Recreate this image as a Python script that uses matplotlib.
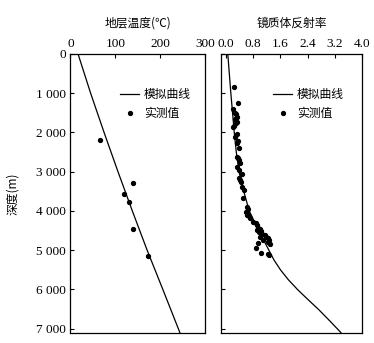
import matplotlib.pyplot as plt
import numpy as np

plt.rcParams['font.family'] = ['Liberation Serif', 'Noto Sans CJK SC']
cjk = ['Noto Sans CJK SC', 'DejaVu Sans']

# temperature curve and measurements
temp_depth = [0, 1000, 2000, 3000, 4000, 5000, 6000, 7100]
temp_sim = [17, 45, 75, 106, 138, 171, 206, 244]
temp_obs_t = [67, 140, 120, 131, 140, 173]
temp_obs_d = [2194, 3291, 3571, 3776, 4464, 5153]

# vitrinite reflectance curve and measurements
ro_depth = [0, 1000, 2000, 2500, 3000, 3500, 4000, 4250, 4500, 4750, 5000, 5250,
            5500, 5750, 6000, 6250, 6500, 6800, 7100]
ro_sim = [0.05, 0.14, 0.24, 0.30, 0.38, 0.52, 0.68, 0.82, 0.97, 1.11, 1.26, 1.41,
          1.60, 1.83, 2.10, 2.40, 2.71, 3.05, 3.38]
ro_obs_v = [0.24, 0.34, 0.19, 0.27, 0.30, 0.32, 0.26, 0.32, 0.28, 0.20, 0.24, 0.33,
            0.27, 0.36, 0.33, 0.37, 0.32, 0.36, 0.39, 0.41, 0.33, 0.38, 0.46, 0.39,
            0.41, 0.43, 0.48, 0.53, 0.51, 0.61, 0.64, 0.59, 0.64, 0.61, 0.66, 0.70,
            0.80, 0.87, 0.92, 0.95, 0.99, 0.92, 1.04, 0.97, 1.06, 1.14, 0.99, 1.17,
            1.24, 1.09, 1.27, 1.22, 0.95, 1.28, 0.88, 1.24, 1.04, 1.27]
ro_obs_d = [833, 1241, 1412, 1497, 1539, 1616, 1667, 1726, 1769, 1854, 1828, 2041,
            2126, 2219, 2279, 2406, 2619, 2662, 2704, 2789, 2891, 2959, 3061, 3172,
            3214, 3265, 3384, 3469, 3682, 3895, 3946, 4022, 4065, 4107, 4133, 4167,
            4277, 4303, 4362, 4422, 4447, 4490, 4507, 4532, 4575, 4617, 4660, 4660,
            4685, 4745, 4728, 4787, 4804, 4830, 4932, 5085, 5068, 5128]

depth_ticks = [0, 1000, 2000, 3000, 4000, 5000, 6000, 7000]
depth_labels = ['0', '1 000', '2 000', '3 000', '4 000', '5 000', '6 000', '7 000']

fig = plt.figure(figsize=(3.74, 3.43), dpi=100)
ax1 = fig.add_axes([70/374, 1-333/343, 135/374, 279/343])
ax2 = fig.add_axes([221/374, 1-333/343, 141/374, 279/343])

for ax in (ax1, ax2):
    ax.set_ylim(7110, 0)
    ax.set_yticks(depth_ticks)
    ax.xaxis.tick_top()
    ax.tick_params(direction='in', length=3, width=0.8, labelsize=9.5, pad=3,
                   top=True, bottom=False)
    for s in ax.spines.values():
        s.set_linewidth(0.9)

ax1.plot(temp_sim, temp_depth, color='black', lw=0.9, label='模拟曲线')
ax1.plot(temp_obs_t, temp_obs_d, 'o', color='black', ms=2.8, label='实测值')
ax1.set_xlim(-1, 300)
ax1.set_xticks([0, 100, 200, 300])
ax1.set_yticklabels(depth_labels)
ax1.set_ylabel('深度(m)', family=cjk, fontsize=8.5, labelpad=12)
ax1.set_title('地层温度(℃)', family=cjk, fontsize=8.5, pad=8)
ax1.legend(loc='upper left', bbox_to_anchor=(0.33, 0.90), frameon=False,
           prop={'family': cjk, 'size': 8.5}, handlelength=1.6,
           handletextpad=0.4, labelspacing=0.55, borderpad=0)

ax2.plot(ro_sim, ro_depth, color='black', lw=0.9, label='模拟曲线')
ax2.plot(ro_obs_v, ro_obs_d, 'o', color='black', ms=2.8, label='实测值')
ax2.set_xlim(-0.15, 4.0)
ax2.set_xticks([0.0, 0.8, 1.6, 2.4, 3.2, 4.0])
ax2.set_yticklabels([])
ax2.set_title('镜质体反射率', family=cjk, fontsize=8.5, pad=8)
ax2.legend(loc='upper left', bbox_to_anchor=(0.33, 0.90), frameon=False,
           prop={'family': cjk, 'size': 8.5}, handlelength=1.6,
           handletextpad=0.4, labelspacing=0.55, borderpad=0)

fig.savefig('out.png', dpi=100)
